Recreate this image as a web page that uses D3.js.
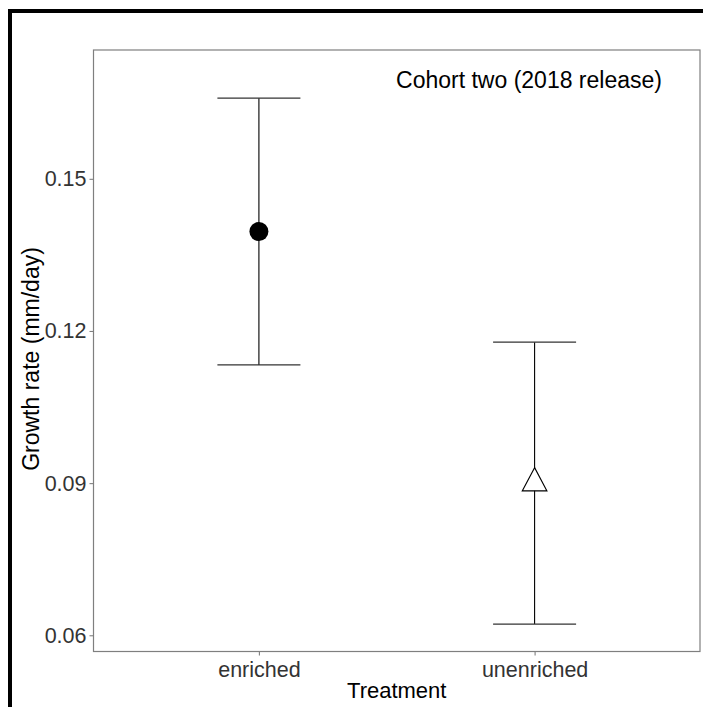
<!DOCTYPE html>
<html><head><meta charset="utf-8">
<script src="https://cdn.jsdelivr.net/npm/d3@7"></script>
<style>html,body{margin:0;padding:0;background:#fff;}svg{display:block;font-family:"Liberation Sans",Arial,sans-serif;}</style>
</head><body>
<script>
const categories = ["enriched", "unenriched"];
const means = [0.1396, 0.0900];
const lowers = [0.1133, 0.0622];
const uppers = [0.1659, 0.1178];
const shapes = ["circle", "triangle"];
const yTicks = [0.06, 0.09, 0.12, 0.15];
const yTickLabels = ["0.06", "0.09", "0.12", "0.15"];
const annotation = "Cohort two (2018 release)";
const xTitle = "Treatment";
const yTitle = "Growth rate (mm/day)";

const W = 703, H = 707;
const svg = d3.select("body").append("svg").attr("width", W).attr("height", H);
svg.append("rect").attr("width", W).attr("height", H).attr("fill", "#fff");
// outer black frame (left/top visible)
svg.append("rect").attr("x", 10).attr("y", 11).attr("width", W + 20).attr("height", H + 20)
  .attr("fill", "none").attr("stroke", "#000").attr("stroke-width", 4);

const px0 = 93.5, px1 = 700, py0 = 50, py1 = 651.5;
const x = d3.scalePoint().domain(categories).range([px0, px1]).padding(0.6);
// y domain from pixel calibration
const y = d3.scaleLinear().domain([0.0568, 0.1754]).range([py1, py0]);

// panel border
svg.append("rect").attr("x", px0).attr("y", py0).attr("width", px1 - px0).attr("height", py1 - py0)
  .attr("fill", "none").attr("stroke", "#7f7f7f").attr("stroke-width", 1.2);

// y axis
const yAxis = d3.axisLeft(y).tickValues(yTicks).tickFormat((d, i) => yTickLabels[i]).tickSize(4).tickPadding(3);
const gy = svg.append("g").attr("transform", `translate(${px0},0)`).call(yAxis);
gy.select(".domain").remove();
gy.selectAll(".tick line").attr("stroke", "#7f7f7f").attr("stroke-width", 1.1);
gy.selectAll(".tick text").attr("fill", "#333").attr("font-size", 21.5).attr("font-family", "Liberation Sans, Arial, sans-serif");

// x axis
const xAxis = d3.axisBottom(x).tickSize(4).tickPadding(6);
const gx = svg.append("g").attr("transform", `translate(0,${py1})`).call(xAxis);
gx.select(".domain").remove();
gx.selectAll(".tick line").attr("stroke", "#7f7f7f").attr("stroke-width", 1.1);
gx.selectAll(".tick text").attr("fill", "#333").attr("font-size", 21.5).attr("font-family", "Liberation Sans, Arial, sans-serif");

// error bars
const capHalf = 41.5;
const eb = svg.append("g");
categories.forEach((c, i) => {
  const cx = x(c);
  eb.append("line").attr("x1", cx).attr("x2", cx).attr("y1", y(lowers[i])).attr("y2", y(uppers[i]))
    .attr("stroke", "#000").attr("stroke-width", 1.1);
  [lowers[i], uppers[i]].forEach(v => {
    eb.append("line").attr("x1", cx - capHalf).attr("x2", cx + capHalf).attr("y1", y(v)).attr("y2", y(v))
      .attr("stroke", "#333").attr("stroke-width", 1.3);
  });
});

// points
categories.forEach((c, i) => {
  const cx = x(c), cy = y(means[i]);
  if (shapes[i] === "circle") {
    svg.append("circle").attr("cx", cx).attr("cy", cy).attr("r", 9.5).attr("fill", "#000");
  } else {
    const r = 15.5, xc = r * Math.sqrt(3) / 2 * 0.92;
    const pts = [[cx, cy - r], [cx + xc, cy + r / 2], [cx - xc, cy + r / 2]];
    svg.append("polygon").attr("points", pts.map(p => p.join(",")).join(" "))
      .attr("fill", "#fff").attr("stroke", "#000").attr("stroke-width", 1.1);
  }
});

// annotation
svg.append("text").attr("x", 529).attr("y", 88).attr("text-anchor", "middle")
  .attr("font-size", 23).attr("fill", "#000").text(annotation);

// axis titles
svg.append("text").attr("x", (px0 + px1) / 2).attr("y", 698).attr("text-anchor", "middle")
  .attr("font-size", 22).attr("fill", "#000").text(xTitle);
svg.append("text").attr("transform", `translate(39,359) rotate(-90)`).attr("text-anchor", "middle")
  .attr("font-size", 23).attr("fill", "#000").text(yTitle);
</script>
</body></html>
